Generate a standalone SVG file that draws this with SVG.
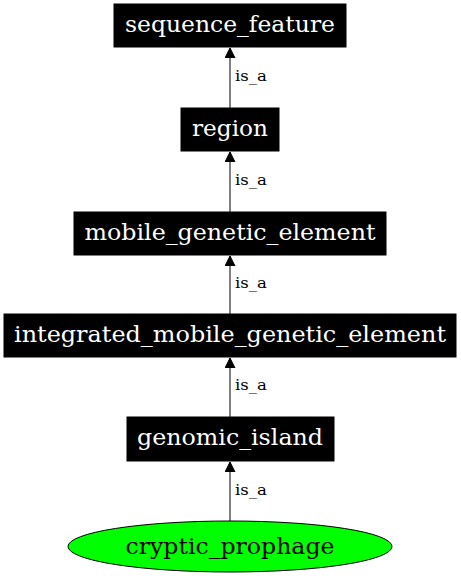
<svg xmlns="http://www.w3.org/2000/svg" width="461" height="576" viewBox="0 0 461 576">
<defs>
<style>
.box{fill:#000;stroke:#000;stroke-width:1}
.nt{font-family:"DejaVu Serif",serif;font-size:22.5px;fill:#fff;text-anchor:middle}
.et{font-family:"DejaVu Serif",serif;font-size:15px;fill:#000}
.edge{stroke:#000;stroke-width:1;fill:none}
</style>
<marker id="ah" markerWidth="10" markerHeight="11" refX="10" refY="5" orient="auto" markerUnits="userSpaceOnUse" viewBox="0 0 10 10">
<path d="M0,0 L10,5 L0,10 Z" fill="#000" stroke="#000"/>
</marker>
</defs>
<rect width="461" height="576" fill="#fff"/>
<g id="edges">
<path class="edge" d="M230,108 L230,48" marker-end="url(#ah)"/>
<text class="et" x="235" y="81" textLength="32" lengthAdjust="spacingAndGlyphs">is_a</text>
<path class="edge" d="M230,212 L230,152" marker-end="url(#ah)"/>
<text class="et" x="235" y="185" textLength="32" lengthAdjust="spacingAndGlyphs">is_a</text>
<path class="edge" d="M230,314 L230,256" marker-end="url(#ah)"/>
<text class="et" x="235" y="288" textLength="32" lengthAdjust="spacingAndGlyphs">is_a</text>
<path class="edge" d="M230,417 L230,358" marker-end="url(#ah)"/>
<text class="et" x="235" y="390" textLength="32" lengthAdjust="spacingAndGlyphs">is_a</text>
<path class="edge" d="M230,521 L230,462" marker-end="url(#ah)"/>
<text class="et" x="235" y="495" textLength="32" lengthAdjust="spacingAndGlyphs">is_a</text>
</g>
<g id="sequence_feature">
<rect class="box" x="114" y="4" width="232" height="43"/>
<text class="nt" x="230" y="32" textLength="210" lengthAdjust="spacingAndGlyphs">sequence_feature</text>
</g>
<g id="region">
<rect class="box" x="181" y="108" width="98" height="43"/>
<text class="nt" x="230" y="136" textLength="76" lengthAdjust="spacingAndGlyphs">region</text>
</g>
<g id="mobile_genetic_element">
<rect class="box" x="74" y="212" width="312" height="43"/>
<text class="nt" x="230" y="240" textLength="291" lengthAdjust="spacingAndGlyphs">mobile_genetic_element</text>
</g>
<g id="integrated_mobile_genetic_element">
<rect class="box" x="4" y="314" width="452" height="43"/>
<text class="nt" x="230" y="342" textLength="432" lengthAdjust="spacingAndGlyphs">integrated_mobile_genetic_element</text>
</g>
<g id="genomic_island">
<rect class="box" x="127" y="417" width="207" height="44"/>
<text class="nt" x="230" y="445" textLength="186" lengthAdjust="spacingAndGlyphs">genomic_island</text>
</g>
<g id="cryptic_prophage">
<ellipse cx="230" cy="546.5" rx="162" ry="25.5" fill="#00ff00" stroke="#000" stroke-width="1"/>
<text x="230" y="554" font-family="DejaVu Serif, serif" font-size="22.5" fill="#000" text-anchor="middle" textLength="209" lengthAdjust="spacingAndGlyphs">cryptic_prophage</text>
</g>
</svg>
